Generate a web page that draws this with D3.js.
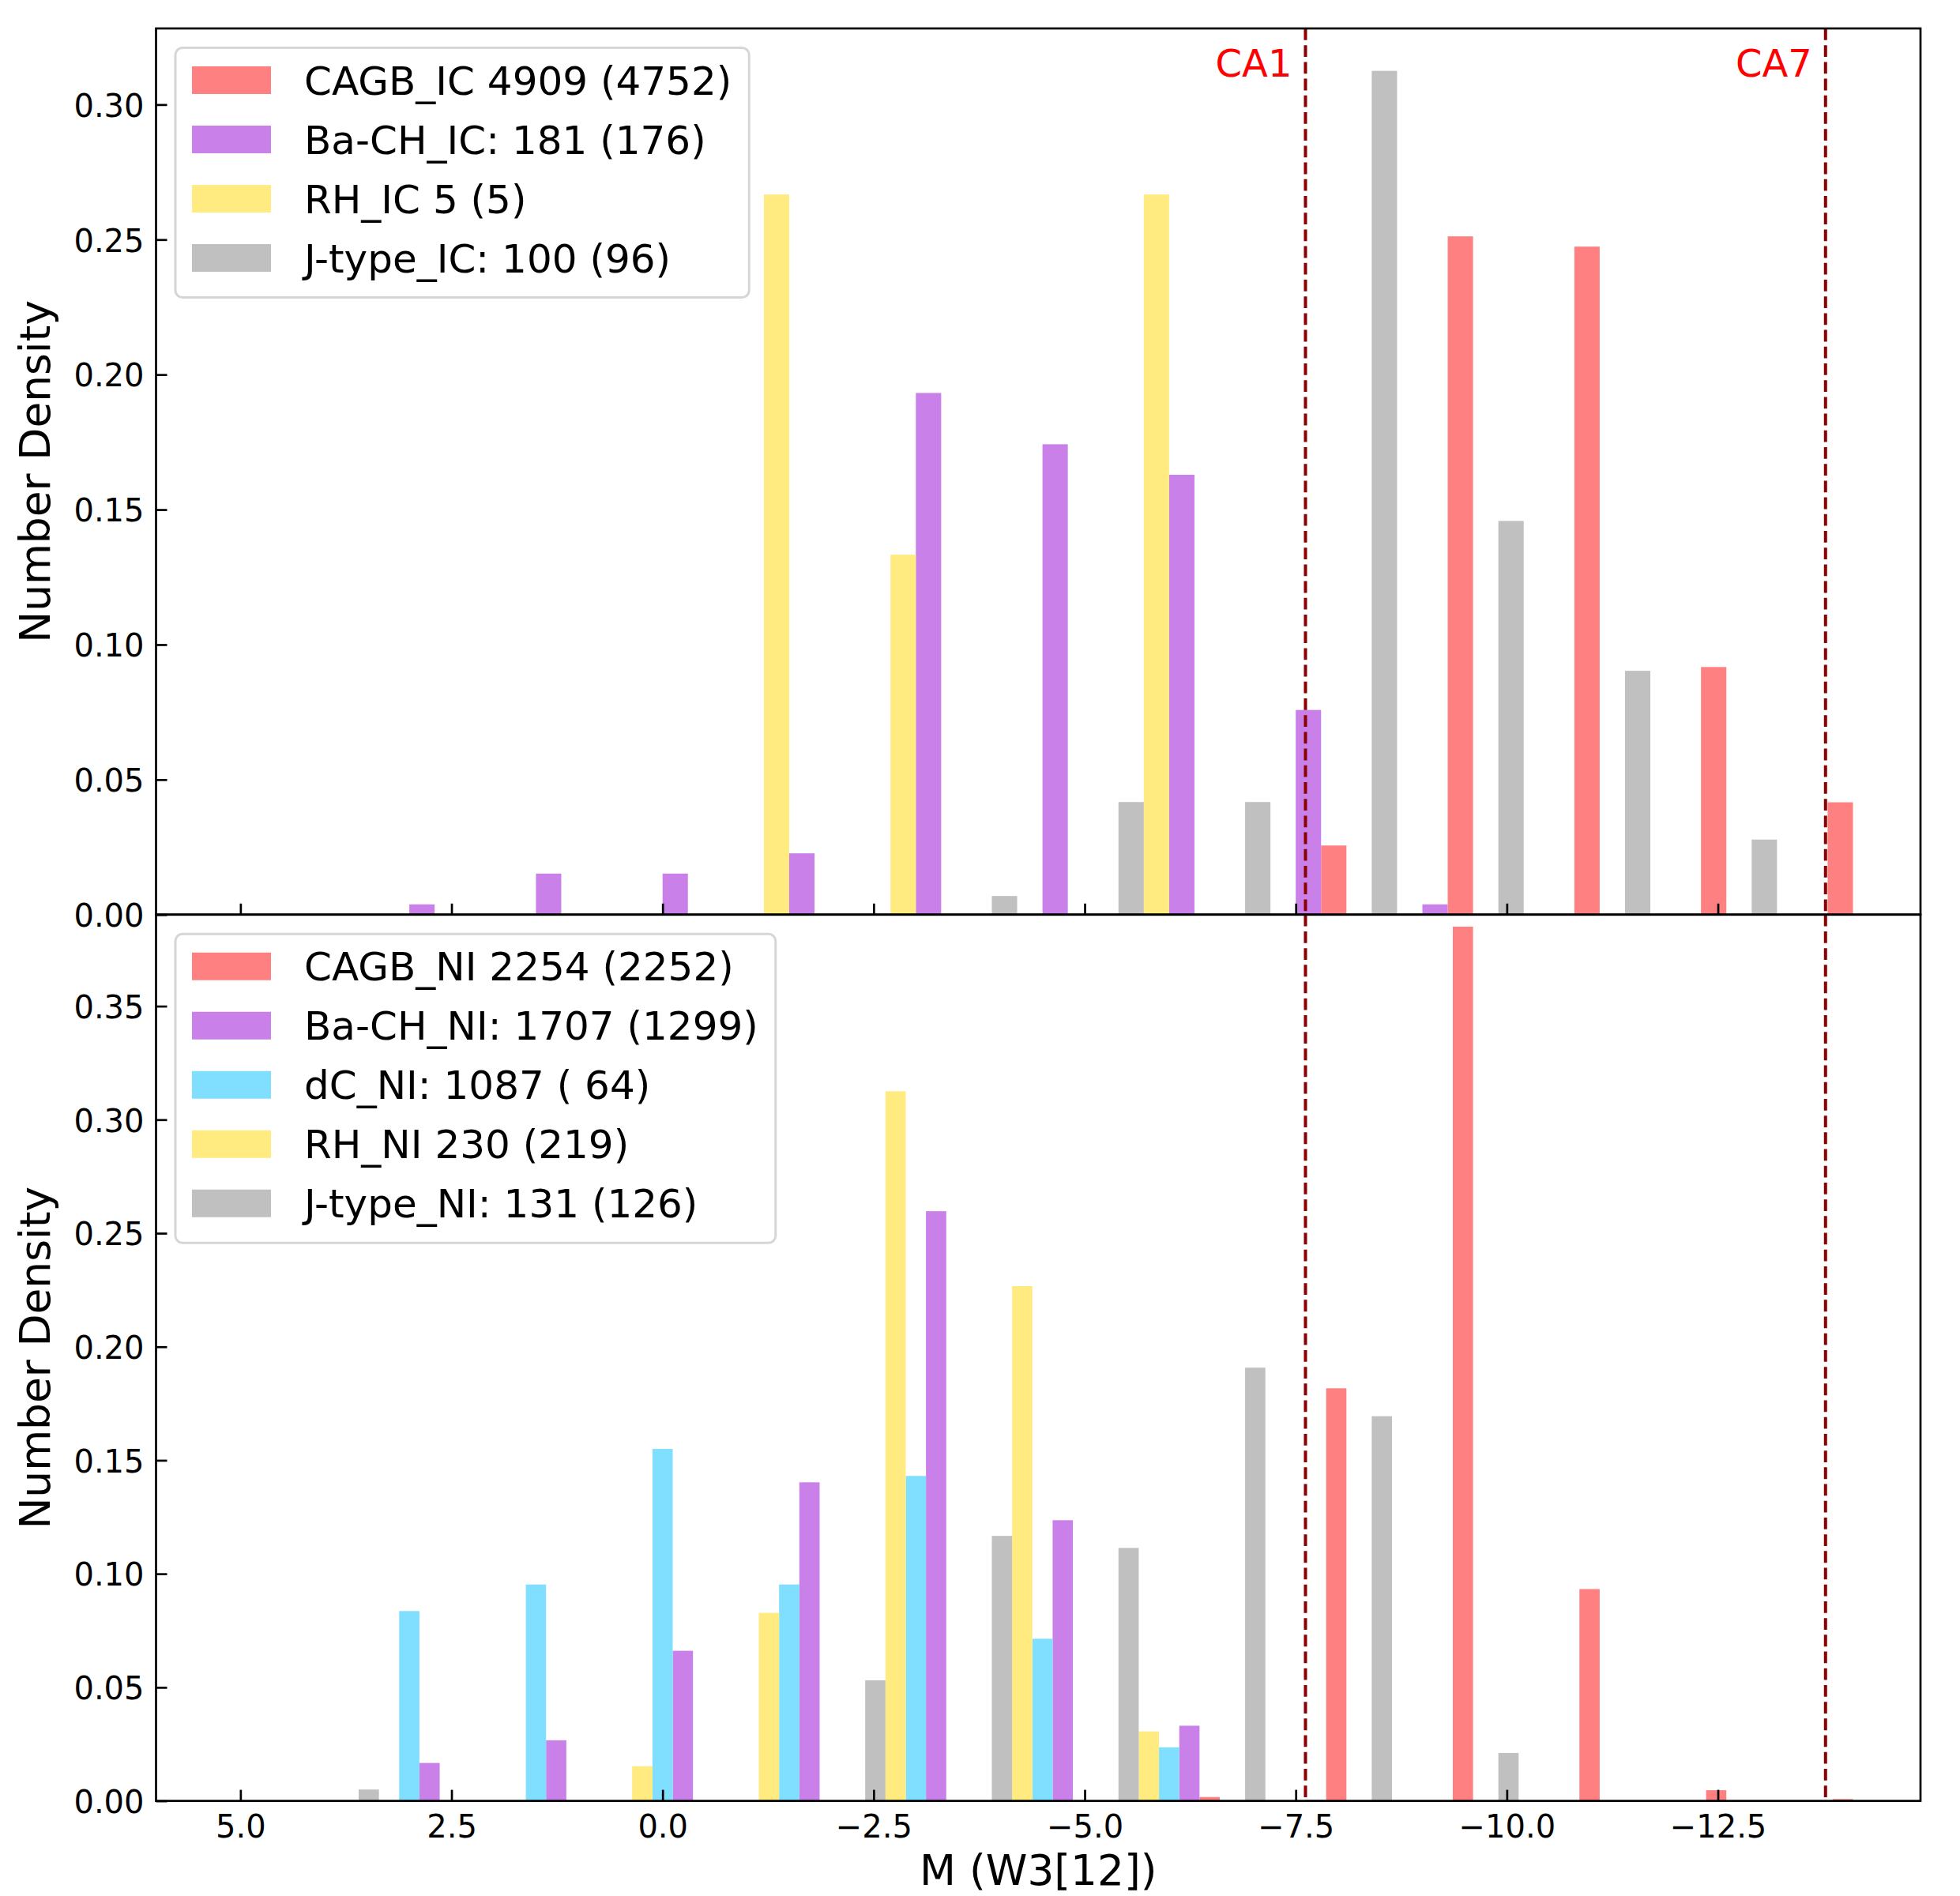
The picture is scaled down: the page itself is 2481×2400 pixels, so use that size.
<!DOCTYPE html>
<html>
<head>
<meta charset="utf-8">
<script src="https://cdn.jsdelivr.net/npm/d3@7"></script>
<style>
  body { margin: 0; background: #ffffff; }
  svg text { font-family: "DejaVu Sans", sans-serif; }
</style>
</head>
<body>
<div id="chart"></div>
<script>
// Shared histogram bins (centres, width 1.5 mag)
const binCenters = [3.0, 1.5, 0.0, -1.5, -3.0, -4.5, -6.0, -7.5, -9.0, -10.5, -12.0, -13.5];
const binWidth = 1.5;

// Upper panel: IC samples (number density per bin)
const cagbIC   = [0, 0, 0, 0, 0, 0, 0, 0.0256, 0.2512, 0.2474, 0.0917, 0.0416];
const bachIC   = [0.0038, 0.0152, 0.0152, 0.0227, 0.1932, 0.1742, 0.1629, 0.0758, 0.0038, 0, 0, 0];
const rhIC     = [0, 0, 0, 0.2667, 0.1333, 0, 0.2667, 0, 0, 0, 0, 0];
const jtypeIC  = [0, 0, 0, 0, 0, 0.0069, 0.0417, 0.0417, 0.3125, 0.1458, 0.0903, 0.0278];
const labelsIC = ["CAGB_IC 4909 (4752)", "Ba-CH_IC: 181 (176)", "RH_IC 5 (5)", "J-type_IC: 100 (96)"];

// Lower panel: NI samples
const cagbNI   = [0, 0, 0, 0, 0, 0, 0.0017, 0.1817, 0.3850, 0.0933, 0.0047, 0.0008];
const bachNI   = [0.0167, 0.0267, 0.0661, 0.1403, 0.2597, 0.1236, 0.0331, 0.0005, 0, 0, 0, 0];
const dcNI     = [0.0836, 0.0953, 0.1550, 0.0953, 0.1431, 0.0714, 0.0236, 0, 0, 0, 0, 0];
const rhNI     = [0, 0, 0.0153, 0.0828, 0.3125, 0.2267, 0.0306, 0, 0, 0, 0, 0];
const jtypeNI  = [0.0050, 0, 0, 0, 0.0531, 0.1167, 0.1114, 0.1908, 0.1694, 0.0211, 0, 0];
const labelsNI = ["CAGB_NI 2254 (2252)", "Ba-CH_NI: 1707 (1299)", "dC_NI: 1087 ( 64)", "RH_NI 230 (219)", "J-type_NI: 131 (126)"];

// Axis ticks and reference lines
const xTicks = [5.0, 2.5, 0.0, -2.5, -5.0, -7.5, -10.0, -12.5];
const yTicksIC = [0, 0.05, 0.10, 0.15, 0.20, 0.25, 0.30];
const yTicksNI = [0, 0.05, 0.10, 0.15, 0.20, 0.25, 0.30, 0.35];
const caNames = ["CA1", "CA7"];
const caValues = [-7.615, -13.775];

// Colours (matplotlib colours at alpha 0.5 on white)
const cRed = "#ff8080", cPurple = "#c980e9", cYellow = "#ffeb80", cGray = "#c0c0c0", cCyan = "#80dfff";

(function () {
    const width = 2481, height = 2400;
    const left = 197.5, right = 2431;

    const svg = d3.select("#chart")
        .append("svg")
        .attr("width", width)
        .attr("height", height);

    // x axis is inverted (bright to the right)
    const x = d3.scaleLinear().domain([6.0, -14.9]).range([left, right]);

    const panels = [
        { top: 36, bottom: 1157.75, yMax: 0.3282, yTicks: yTicksIC, series: [cagbIC, bachIC, rhIC, jtypeIC],
          colors: [cRed, cPurple, cYellow, cGray], labels: labelsIC, showX: false, showCA: true },
        { top: 1157.75, bottom: 2279.6, yMax: 0.3903, yTicks: yTicksNI, series: [cagbNI, bachNI, dcNI, rhNI, jtypeNI],
          colors: [cRed, cPurple, cCyan, cYellow, cGray], labels: labelsNI, showX: true, showCA: false }
    ];

    panels.forEach(p => {
        const g = svg.append("g");
        const y = d3.scaleLinear().domain([0, p.yMax]).range([p.bottom, p.top]);
        const n = p.series.length;
        const step = 0.8 * binWidth / n;

        // Bars: side-by-side histogram, dataset i at offset 0.1w + i*step from bin lower edge
        p.series.forEach((vals, i) => {
            const rows = binCenters.map((c, k) => ({ c: c, v: vals[k] })).filter(d => d.v > 0);
            g.append("g").selectAll("rect")
                .data(rows)
                .enter()
                .append("rect")
                .attr("x", d => x(d.c - binWidth / 2 + 0.1 * binWidth + (i + 1) * step))
                .attr("width", d => x(d.c - binWidth / 2 + 0.1 * binWidth + i * step) - x(d.c - binWidth / 2 + 0.1 * binWidth + (i + 1) * step))
                .attr("y", d => y(d.v))
                .attr("height", d => y(0) - y(d.v))
                .attr("fill", p.colors[i]);
        });

        // Vertical CA lines
        caValues.forEach((v, i) => {
            g.append("line")
                .attr("x1", x(v)).attr("x2", x(v))
                .attr("y1", p.top).attr("y2", p.bottom)
                .attr("stroke", "#8b0000")
                .attr("stroke-width", 4)
                .attr("stroke-dasharray", "14.8,6.4");
            if (p.showCA) {
                g.append("text")
                    .attr("x", x(v) - 17)
                    .attr("y", p.top + 61)
                    .attr("text-anchor", "end")
                    .attr("font-size", 48)
                    .attr("fill", "red")
                    .text(caNames[i]);
            }
        });

        // Axes with inward ticks
        const yAxis = d3.axisLeft(y)
            .tickValues(p.yTicks)
            .tickFormat(d3.format(".2f"))
            .tickSizeInner(-14)
            .tickSizeOuter(0)
            .tickPadding(15);
        const ya = g.append("g").attr("transform", `translate(${left},0)`).call(yAxis);

        const xAxis = d3.axisBottom(x)
            .tickValues(xTicks)
            .tickFormat(p.showX ? d3.format(".1f") : "")
            .tickSizeInner(-14)
            .tickSizeOuter(0)
            .tickPadding(18);
        const xa = g.append("g").attr("transform", `translate(0,${p.bottom})`).call(xAxis);

        [ya, xa].forEach(a => {
            a.select(".domain").remove();
            a.selectAll(".tick line").attr("stroke", "#000").attr("stroke-width", 2.7);
            a.selectAll(".tick text").attr("font-size", 40).attr("fill", "#000")
                .attr("font-family", "DejaVu Sans, sans-serif");
        });
        ya.selectAll(".tick text").attr("dy", "0.37em");

        // Frame
        g.append("rect")
            .attr("x", left).attr("y", p.top)
            .attr("width", right - left).attr("height", p.bottom - p.top)
            .attr("fill", "none")
            .attr("stroke", "#000")
            .attr("stroke-width", 2.7);

        // y label
        g.append("text")
            .attr("transform", `translate(63,${(p.top + p.bottom) / 2}) rotate(-90)`)
            .attr("text-anchor", "middle")
            .attr("font-size", 53.3)
            .text("Number Density");

        // Legend
        const lg = g.append("g");
        const frameTop = p.top + 24.5;
        const rowY = k => frameTop + 41 + k * 75;
        const frame = lg.append("rect")
            .attr("x", 222).attr("y", frameTop)
            .attr("height", rowY(n - 1) + 50 - frameTop)
            .attr("rx", 9).attr("ry", 9)
            .attr("fill", "#fff").attr("fill-opacity", 0.8)
            .attr("stroke", "#d6d6d6")
            .attr("stroke-width", 3);
        let maxRight = 0;
        p.labels.forEach((lab, k) => {
            lg.append("rect")
                .attr("x", 243).attr("y", rowY(k) - 17.5)
                .attr("width", 100).attr("height", 35)
                .attr("fill", p.colors[k]);
            const t = lg.append("text")
                .attr("x", 385).attr("y", rowY(k) + 18)
                .attr("font-size", 50)
                .style("white-space", "pre")
                .attr("xml:space", "preserve")
                .text(lab);
            maxRight = Math.max(maxRight, 385 + t.node().getComputedTextLength());
        });
        frame.attr("width", maxRight + 22 - 222);
    });

    // x label
    svg.append("text")
        .attr("x", (left + right) / 2)
        .attr("y", 2386)
        .attr("text-anchor", "middle")
        .attr("font-size", 53.3)
        .text("M (W3[12])");
})();
</script>
</body>
</html>
